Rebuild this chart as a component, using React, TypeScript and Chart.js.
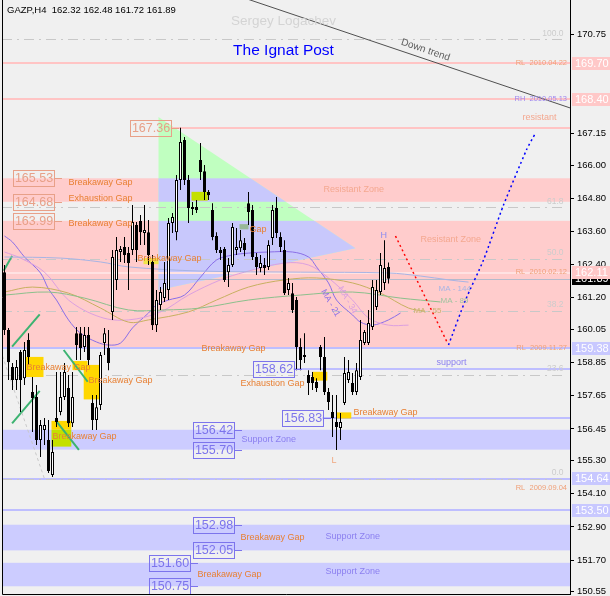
import React, { useEffect, useRef } from "react";
import { Chart, registerables } from "chart.js";

Chart.register(...registerables);

// ---------------- data (GAZP, H4) ----------------
const SYMBOL = "GAZP,H4";
const openP = [162.13,160.03,158.69,158.22,159.24,158.29,159.67,157.79,157.61,156.05,156.41,156.05,154.78,156.85,157.06,157.61,157.93,156.66,159.92,159.92,159.42,159.85,157.39,156.77,157.32,159.56,159.38,160.69,161.85,162.86,163.04,162.82,162.93,163.84,163.98,163.55,163.58,162.50,160.21,160.94,161.19,161.48,163.91,163.58,165.47,166.92,165.47,164.49,164.49,166.19,165.79,165.03,164.38,163.44,162.93,162.97,162.13,162.39,162.93,163.00,163.19,164.63,164.38,162.68,162.28,162.39,162.32,163.37,164.45,163.40,162.93,161.48,161.37,161.12,159.42,159.06,158.40,158.33,158.15,159.42,159.06,157.79,157.06,156.70,156.48,157.39,158.22,158.11,157.79,158.33,159.56,159.56,160.14,160.87,161.41,161.74,162.32];
const highP = [162.39,160.11,158.84,158.95,159.31,159.60,159.92,158.33,158.04,156.77,156.85,156.77,156.05,158.51,158.51,158.84,158.40,158.51,160.14,160.14,160.14,160.14,157.68,157.68,159.24,160.11,160.03,162.93,163.40,163.08,163.40,163.04,164.56,163.95,164.20,164.56,164.02,162.75,161.48,161.59,162.50,164.09,164.27,165.65,167.36,167.03,165.65,164.67,164.74,166.81,166.01,165.11,164.63,163.58,163.04,163.04,162.64,163.91,163.73,163.66,163.37,165.03,164.56,162.82,162.75,162.64,163.29,164.56,164.85,163.58,163.29,161.92,161.74,161.23,159.74,159.92,158.58,158.51,158.29,159.49,159.78,157.93,157.68,157.68,157.03,159.06,158.95,158.48,158.84,160.40,160.03,160.76,161.85,161.85,162.82,163.29,162.48];
const lowP = [159.85,158.22,157.86,157.86,157.06,158.04,158.77,156.34,155.87,155.43,155.87,154.85,154.71,156.52,156.95,157.50,156.52,156.52,158.95,158.95,159.24,158.77,156.41,156.41,157.14,159.13,158.58,160.40,161.48,162.50,162.46,161.48,162.75,162.50,163.11,163.11,162.39,160.03,159.96,160.76,161.05,161.12,163.55,163.29,165.11,165.29,163.91,164.20,164.27,165.47,164.74,164.74,163.29,162.82,162.57,161.77,161.59,162.32,162.75,162.86,162.71,163.84,162.57,162.03,162.13,162.03,162.21,163.11,163.37,162.86,161.30,161.30,160.65,158.58,158.58,158.84,157.68,157.86,157.79,158.58,157.68,157.14,156.16,155.69,156.05,157.32,158.11,157.68,157.68,158.22,159.49,159.49,160.03,160.76,161.30,161.48,161.72];
const closeP = [160.03,158.87,158.22,158.69,158.22,159.31,159.06,157.57,156.05,156.59,156.59,154.93,155.61,156.70,157.61,158.51,156.66,157.61,159.49,159.38,159.85,158.95,156.77,157.24,159.13,159.92,158.84,162.68,162.93,162.97,162.75,162.46,163.95,162.93,163.58,163.66,162.75,160.21,161.12,161.41,161.74,163.91,164.13,165.47,166.85,165.47,164.45,164.42,164.38,165.76,165.03,164.92,163.40,162.93,162.82,161.85,162.39,163.77,163.04,163.29,162.93,164.31,162.68,162.32,162.46,162.28,163.11,164.38,163.55,163.04,161.37,161.74,160.76,159.42,158.95,159.13,158.11,158.11,157.93,159.06,157.79,157.43,156.85,156.52,156.70,158.48,158.51,157.79,158.58,159.67,159.96,160.29,161.59,161.48,162.39,162.28,161.89];
const TOTAL_SLOTS = 142;

// right axis ticks
const yTicks = [170.75, 167.15, 166.0, 164.8, 163.6, 162.4, 161.2, 160.05, 158.85, 157.65, 156.45, 155.3, 154.1, 152.9, 151.7, 150.55];
const Y_MIN = 150.47;
const Y_MAX = 171.99;

// moving averages: [bar index, price]
const ma21 = [[0,163.44],[2,163.22],[5,162.68],[9,162.10],[11,161.52],[13,161.12],[16,160.40],[19,159.92],[23,159.60],[26,159.49],[29,159.56],[32,160.11],[36,160.65],[38,160.94],[41,161.12],[45,161.30],[49,161.95],[53,162.57],[57,162.75],[61,162.82],[66,162.86],[72,162.86],[76,162.68],[78,162.32],[81,161.74],[83,161.12],[87,160.58],[89,160.32],[92,160.21],[96,160.40],[99,160.65]];
const ma34 = [[0,162.86],[4,162.64],[10,162.13],[16,161.12],[24,160.50],[31,160.40],[39,160.69],[46,161.30],[54,161.85],[60,162.13],[70,162.46],[76,162.39],[81,161.92],[87,161.12],[91,160.47],[96,160.21],[101,160.21]];
const ma55 = [[0,161.41],[7,161.59],[16,161.37],[24,160.83],[31,160.32],[36,160.40],[46,160.69],[53,161.12],[61,161.59],[70,161.85],[78,161.92],[87,161.74],[94,161.37],[101,160.83],[105,160.72]];
const ma89 = [[0,161.30],[11,161.41],[20,161.19],[31,160.76],[40,160.76],[49,160.83],[61,161.12],[74,161.30],[87,161.41],[99,161.19],[109,161.05]];
const ma144 = [[0,162.68],[14,162.64],[24,162.50],[31,162.32],[49,162.17],[74,162.13],[96,162.10],[104,161.99],[111,161.85],[116,161.77]];

// drawn objects (bar index, price)
const downTrend = [[60,172.06],[142,168.05]];
const projRed = [[97.75,163.44],[110.75,159.56]];
const projBlue = [[111,159.49],[115.25,161.12],[119.75,162.57],[124.75,164.56],[130.5,166.56],[132.75,167.17]];
const fibBase = [[-1,159.3],[10,154.64]];

const pinkZones = [[165.53,164.68],[163.99,159.38]];
const blueZones = [[156.42,155.70],[152.98,152.05],[151.60,150.75]];
const pinkLines = [169.70, 168.40];
const blueLines = [159.38, 154.64, 153.50];
const paleLine = 162.11;
const bidPrice = 161.89;
const fibLow = 154.64;
const fibHigh = 170.57;
const fibLevels = [0, 23.6, 38.2, 50.0, 61.8, 100.0];

const triIdx = [38.5, 87.75, 38.5];
const triPrice = [167.75, 163.0, 161.48];

const boxPrices = [167.36,165.53,164.68,163.99,158.62,156.83,156.42,155.70,152.98,152.05,151.60,150.75];
const boxAnchors = [43.5,14.25,14.25,14.25,74.25,81.5,59.25,59.25,59.25,59.25,48.25,48.25];
const boxKinds = ["r","r","r","r","b","b","b","b","b","b","b","b"];
const boxRays = [true,false,false,false,true,true,false,false,false,false,false,false];

const gapBoxes: [number, number, number, number, string][] = [
  [5.25,9.75,159.06,158.33,"#FFD700"],[17,20.75,158.91,158.58,"#FFD700"],[19.8,23.7,158.77,157.52,"#FFD700"],
  [11.75,16.7,156.74,156.42,"#FFD700"],[11.75,16.7,156.42,155.81,"#C4E000"],[34.75,38.5,162.64,162.42,"#F0E448"],
  [46.75,50.8,165.04,164.72,"#C4E000"],[58.75,61,163.87,163.68,"#98B898"],[76.9,80.7,158.52,158.20,"#FFD700"],
  [82.9,86.7,157.05,156.83,"#FFD700"],
];
const gapLines = [[-0.2,162.18,1.9,162.72],[1.9,159.43,8.8,160.60],[1.9,156.65,8.8,157.83],[14.8,159.31,20.8,158.16],[12.75,156.77,18.6,155.69]];

const gapLabels: [string, number, number][] = [
  ["Breakaway Gap",16,165.36],["Exhaustion Gap",16,164.78],["Breakaway Gap",16,163.91],["Breakaway Gap",33.25,162.64],
  ["Gap",61.25,163.69],["Breakaway Gap",5.5,158.69],["Breakaway Gap",21,158.19],["Breakaway Gap",12,156.19],
  ["Breakaway Gap",49.25,159.38],["Exhaustion Gap",59,158.11],["Breakaway Gap",87.25,157.03],["Breakaway Gap",59,152.53],
  ["Breakaway Gap",48.25,151.16],
];
const resLabels: [string, number, number][] = [["Resistant Zone",79.75,165.11],["Resistant Zone",104,163.33],["resistant",129.5,167.75]];
const supLabels: [string, number, number][] = [["Support Zone",59.25,156.08],["Support Zone",80.25,152.57],["Support Zone",80.25,151.27],["support",108,158.87]];
const dateLabels: [string, number, string][] = [
  ["RL  2010.04.22",169.70,"#F0A078"],["RH  2010.05.13",168.40,"#A088F0"],["RL  2010.02.12",162.13,"#F0A078"],
  ["RL  2009.11.27",159.38,"#F0A078"],["RL  2009.09.04",154.33,"#F0A078"],
];
const maLabels: [string, number, number, string][] = [["MA - 144",108.5,161.52,"#A8B4E4"],["MA - 89",109,161.08,"#A0C4A0"],["MA - 55",102.25,160.72,"#C8B470"]];
const maRotLabels: [string, number, number, string][] = [["MA - 21",81.5,161.01,"#8A6FE8"],["MA - 34",85.75,161.12,"#D8A0E0"]];
const tagPrices = [169.70,168.40,162.11,159.38,154.64,153.50];
const tagKinds = ["r","r","r","b","b","b"];

const FONT = "'Liberation Sans', Arial, sans-serif";

const pts = (arr: number[][]) => arr.map(([x, y]) => ({ x, y }));

const drawText = (ctx: CanvasRenderingContext2D, s: string, x: number, y: number, color: string, size: number, align: CanvasTextAlign = "left") => {
  ctx.font = `${size}px ${FONT}`;
  ctx.fillStyle = color;
  ctx.textAlign = align;
  ctx.textBaseline = "middle";
  ctx.fillText(s, x, y);
};

const objectsPlugin = {
  id: "mt4Objects",
  beforeDatasetsDraw(chart: any) {
    const { ctx, chartArea: a } = chart;
    const X = (i: number) => chart.scales.x.getPixelForValue(i);
    const Y = (p: number) => chart.scales.y.getPixelForValue(p);
    const W = a.right - a.left;
    ctx.save();
    ctx.beginPath();
    ctx.rect(a.left, a.top, W, a.bottom - a.top);
    ctx.clip();

    ctx.fillStyle = "#FFCCCC";
    pinkZones.forEach(([hi, lo]) => ctx.fillRect(a.left, Y(hi), W, Y(lo) - Y(hi)));
    ctx.fillStyle = "#CCCCFF";
    blueZones.forEach(([hi, lo]) => ctx.fillRect(a.left, Y(hi), W, Y(lo) - Y(hi)));

    // triangle
    ctx.save();
    ctx.beginPath();
    triIdx.forEach((ti, k) => (k ? ctx.lineTo(X(ti), Y(triPrice[k])) : ctx.moveTo(X(ti), Y(triPrice[k]))));
    ctx.closePath();
    ctx.fillStyle = "#C0FFC0";
    ctx.fill();
    ctx.clip();
    ctx.fillStyle = "#C8C8FC";
    pinkZones.forEach(([hi, lo]) => ctx.fillRect(a.left, Y(hi), W, Y(lo) - Y(hi)));
    ctx.restore();

    const hline = (p: number, x0: number, x1: number, color: string, w: number) => {
      ctx.strokeStyle = color;
      ctx.lineWidth = w;
      ctx.beginPath();
      const y = Math.round(Y(p)) + (w % 2 ? 0.5 : 0);
      ctx.moveTo(x0, y);
      ctx.lineTo(x1, y);
      ctx.stroke();
    };
    pinkLines.forEach((p) => hline(p, a.left, a.right, "#FFC4C4", 2));
    hline(paleLine, a.left, a.right, "#FFE2E2", 2);
    blueLines.forEach((p) => hline(p, a.left, a.right, "#BEBEFF", 2));
    boxPrices.forEach((p, k) => {
      if (!boxRays[k]) return;
      hline(p, X(boxAnchors[k]) - 8, a.right, boxKinds[k] === "r" ? "#FFC4C4" : "#BEBEFF", 2);
    });

    // fibo
    ctx.setLineDash([10, 5, 2, 5]);
    fibLevels.forEach((lv) => hline(fibLow + ((fibHigh - fibLow) * lv) / 100, a.left, X(139.75), "#C8C8C8", 1));
    ctx.setLineDash([]);
    hline(bidPrice, a.left, a.right, "#B4BACB", 1);

    gapBoxes.forEach(([i1, i2, pt, pb, c]) => {
      ctx.fillStyle = c;
      ctx.fillRect(X(i1), Y(pt), X(i2) - X(i1), Y(pb) - Y(pt));
    });
    ctx.strokeStyle = "#3CB371";
    ctx.lineWidth = 2;
    gapLines.forEach(([i1, p1, i2, p2]) => {
      ctx.beginPath();
      ctx.moveTo(X(i1), Y(p1));
      ctx.lineTo(X(i2), Y(p2));
      ctx.stroke();
    });
    ctx.restore();
  },
  afterDatasetsDraw(chart: any) {
    const { ctx, chartArea: a } = chart;
    const X = (i: number) => chart.scales.x.getPixelForValue(i);
    const Y = (p: number) => chart.scales.y.getPixelForValue(p);
    ctx.save();
    ctx.beginPath();
    ctx.rect(a.left, a.top, a.right - a.left, a.bottom - a.top);
    ctx.clip();

    // level boxes
    boxPrices.forEach((p, k) => {
      const col = boxKinds[k] === "r" ? "#E8A088" : "#7C74EC";
      const ax = Math.round(X(boxAnchors[k]));
      const y = Math.round(Y(p));
      const right = ax - 8;
      ctx.strokeStyle = col;
      ctx.lineWidth = 1;
      ctx.strokeRect(right - 41 + 0.5, y - 8 + 0.5, 41, 16);
      ctx.beginPath();
      ctx.moveTo(right, y + 0.5);
      ctx.lineTo(ax, y + 0.5);
      ctx.stroke();
      drawText(ctx, p.toFixed(2), right - 20, y + 0.5, col, 12.5, "center");
    });

    gapLabels.forEach(([s, i, p]) => drawText(ctx, s, X(i), Y(p), "#E88034", 9));
    resLabels.forEach(([s, i, p]) => drawText(ctx, s, X(i), Y(p), "#F4A890", 9));
    supLabels.forEach(([s, i, p]) => drawText(ctx, s, X(i), Y(p), "#8C80F0", 9));
    dateLabels.forEach(([s, p, c]) => drawText(ctx, s, a.right - 3, Y(p), c, 7.5, "right"));
    fibLevels.forEach((lv) => drawText(ctx, lv.toFixed(1), X(139.75), Y(fibLow + ((fibHigh - fibLow) * lv) / 100) - 6, "#CCCCCC", 8.5, "right"));
    maLabels.forEach(([s, i, p, c]) => drawText(ctx, s, X(i), Y(p), c, 8));
    maRotLabels.forEach(([s, i, p, c]) => {
      ctx.save();
      ctx.translate(X(i), Y(p));
      ctx.rotate((60 * Math.PI) / 180);
      drawText(ctx, s, 0, 0, c, 8.5, "center");
      ctx.restore();
    });
    drawText(ctx, "H", X(94), Y(163.44), "#8C8CF0", 9);
    drawText(ctx, "L", X(81.75), Y(155.32), "#F0A880", 9);

    // down trend caption
    ctx.save();
    ctx.translate(X(105.25), Y(170.18));
    ctx.rotate(Math.atan(0.3375));
    drawText(ctx, "Down trend", 0, 0, "#606060", 10, "center");
    ctx.restore();

    drawText(ctx, "Sergey Logachev", X(69.75), Y(171.23), "#D4D4D4", 13.5, "center");
    drawText(ctx, "The Ignat Post", X(69.75), Y(170.14), "#0000FF", 15.5, "center");
    ctx.restore();
  },
  afterDraw(chart: any) {
    const { ctx, chartArea: a } = chart;
    const Y = (p: number) => chart.scales.y.getPixelForValue(p);
    ctx.save();
    ctx.strokeStyle = "#000";
    ctx.lineWidth = 1;
    ctx.beginPath();
    ctx.moveTo(a.left + 0.5, a.top);
    ctx.lineTo(a.left + 0.5, a.bottom + 0.5);
    ctx.lineTo(a.right, a.bottom + 0.5);
    ctx.stroke();

    const tag = (p: number, bg: string) => {
      const y = Y(p);
      ctx.fillStyle = bg;
      ctx.fillRect(a.right + 2, Math.round(y - 6.5), 40, 13);
      drawText(ctx, p.toFixed(2), a.right + 5, y + 0.5, "#FFFFFF", 11);
    };
    tag(bidPrice, "#000000");
    tagPrices.forEach((p, k) => tag(p, tagKinds[k] === "r" ? "#FFC8C8" : "#C8C8FF"));

    const n = openP.length - 1;
    drawText(ctx, `${SYMBOL}  ${openP[n].toFixed(2)} ${highP[n].toFixed(2)} ${lowP[n].toFixed(2)} ${closeP[n].toFixed(2)}`, 7, 10, "#000000", 9.5);
    ctx.restore();
  },
};

export default function App() {
  const ref = useRef<HTMLCanvasElement>(null);
  useEffect(() => {
    document.body.style.margin = "0";
    const canvas = ref.current!;
    const lineDs = (data: number[][], color: string, width: number, extra: any = {}) => ({
      type: "line",
      data: pts(data),
      borderColor: color,
      borderWidth: width,
      pointRadius: 0,
      fill: false,
      tension: 0.35,
      order: 3,
      ...extra,
    });
    const chart = new Chart(canvas, {
      type: "bar",
      data: {
        datasets: [
          {
            type: "bar",
            data: openP.map((o, i) => ({ x: i, y: [Math.min(o, closeP[i]), Math.max(o, closeP[i])] })),
            backgroundColor: openP.map((o, i) => (closeP[i] >= o ? "#FFFFFF" : "#000000")),
            borderColor: "#000000",
            borderWidth: 1,
            borderSkipped: false,
            barThickness: 3,
            minBarLength: 1,
            grouped: false,
            inflateAmount: 0,
            order: 1,
          },
          {
            type: "bar",
            data: lowP.map((l, i) => ({ x: i, y: [l, highP[i]] })),
            backgroundColor: "#000000",
            borderWidth: 0,
            barThickness: 1,
            grouped: false,
            inflateAmount: 0,
            order: 2,
          },
          lineDs(ma144, "#A8B4E4", 1),
          lineDs(ma89, "#8CC08C", 1),
          lineDs(ma55, "#C8B060", 1),
          lineDs(ma34, "#DCA0E0", 1),
          lineDs(ma21, "#8A6FE8", 1),
          lineDs(fibBase, "#C8C8C8", 1, { borderDash: [3, 3], tension: 0 }),
          lineDs(downTrend, "#505050", 1, { tension: 0, order: 0 }),
          lineDs(projRed, "#FF0000", 1.5, { borderDash: [2, 3], tension: 0, order: 0 }),
          lineDs(projBlue, "#0000FF", 1.5, { borderDash: [2, 3], tension: 0.2, order: 0 }),
        ] as any,
      },
      options: {
        responsive: false,
        animation: false,
        devicePixelRatio: 1,
        events: [],
        layout: { padding: { left: 2, right: 0, top: 0, bottom: 2 } },
        plugins: { legend: { display: false }, tooltip: { enabled: false } },
        scales: {
          x: { type: "linear", min: -0.625, max: TOTAL_SLOTS - 0.625, offset: false, display: false },
          y: {
            type: "linear",
            position: "right",
            min: Y_MIN,
            max: Y_MAX,
            afterBuildTicks: (s: any) => {
              s.ticks = yTicks.map((v) => ({ value: v }));
            },
            afterFit: (s: any) => {
              s.width = 40;
              s.paddingTop = 0;
              s.paddingBottom = 0;
            },
            ticks: {
              autoSkip: false,
              padding: 3,
              color: "#000000",
              font: { family: FONT, size: 9.5 },
              callback: (v: any) => Number(v).toFixed(2),
            },
            grid: { drawOnChartArea: false, drawTicks: true, tickLength: 4, color: "#000000" },
            border: { display: true, color: "#000000", width: 1 },
          },
        },
      } as any,
      plugins: [objectsPlugin],
    });
    return () => chart.destroy();
  }, []);
  return (
    <canvas
      ref={ref}
      width={610}
      height={596}
      style={{ display: "block", width: 610, height: 596, background: "#F0F0F0" }}
    />
  );
}
